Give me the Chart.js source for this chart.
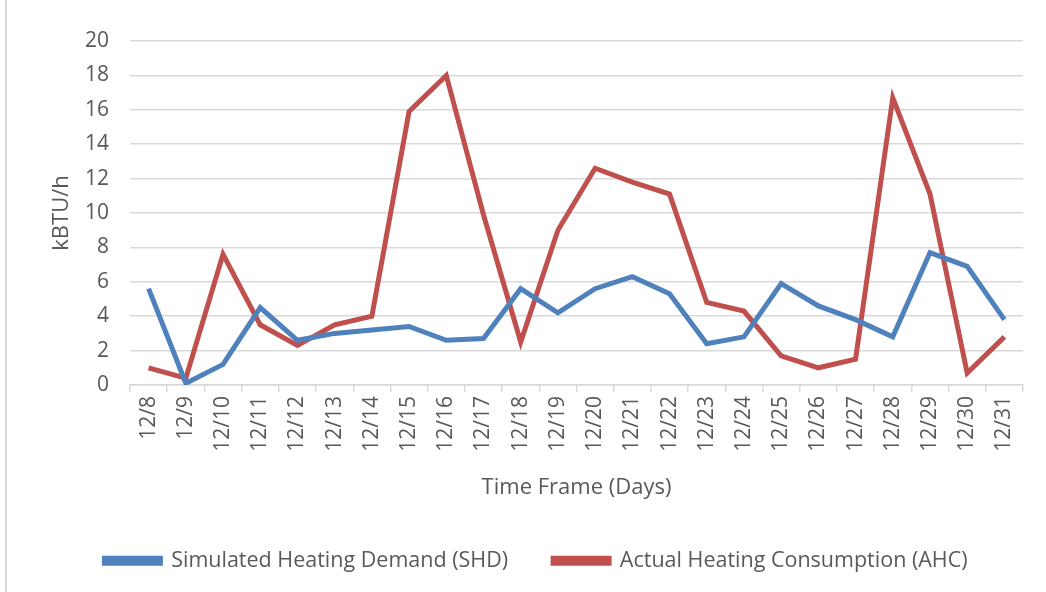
<!DOCTYPE html>
<html>
<head>
<meta charset="utf-8">
<script src="https://cdn.jsdelivr.net/npm/chart.js@4"></script>
<style>
  html, body { margin: 0; padding: 0; background: #fff; }
  #wrap { position: relative; width: 1041px; height: 592px; box-sizing: border-box; border-left: 2px solid #d9d9d9; margin-left: 5px; }
  canvas { display: block; }
</style>
</head>
<body>
<div id="wrap"><canvas id="chart"></canvas></div>
<script>
  const days = ['12/8', '12/9', '12/10', '12/11', '12/12', '12/13', '12/14', '12/15', '12/16', '12/17', '12/18', '12/19',
    '12/20', '12/21', '12/22', '12/23', '12/24', '12/25', '12/26', '12/27', '12/28', '12/29', '12/30', '12/31'];
  const shd = [5.6, 0.1, 1.2, 4.5, 2.6, 3.0, 3.2, 3.4, 2.6, 2.7, 5.6, 4.2, 5.6, 6.3, 5.3, 2.4, 2.8, 5.9, 4.6, 3.8, 2.8, 7.7, 6.9, 3.8];
  const ahc = [1.0, 0.4, 7.6, 3.5, 2.3, 3.5, 4.0, 15.9, 18.0, 9.9, 2.5, 9.0, 12.6, 11.8, 11.1, 4.8, 4.3, 1.7, 1.0, 1.5, 16.7, 11.1, 0.7, 2.8];

  const blue = '#4f81bd';
  const red = '#c0504d';
  const textColor = '#595959';
  const gridColor = '#d9d9d9';
  const font = '"Open Sans", Lato, sans-serif';

  // legend sits lower than its padding would put it, so pin its height
  const legendHeight = {
    id: 'legendHeight',
    beforeInit(chart) {
      const fit = chart.legend.fit;
      chart.legend.fit = function () {
        fit.call(this);
        this.height = 87;
      };
    },
  };

  const ctx = document.getElementById('chart').getContext('2d');
  new Chart(ctx, {
    type: 'line',
    data: {
      labels: days,
      datasets: [
        {
          label: 'Simulated Heating Demand (SHD)',
          data: shd,
          borderColor: blue,
          backgroundColor: blue,
          borderWidth: 5,
          pointRadius: 0,
          tension: 0,
        },
        {
          label: 'Actual Heating Consumption (AHC)',
          data: ahc,
          borderColor: red,
          backgroundColor: red,
          borderWidth: 5,
          pointRadius: 0,
          tension: 0,
        },
      ],
    },
    options: {
      responsive: true,
      maintainAspectRatio: false,
      animation: false,
      layout: {
        padding: { left: 42, right: 23, top: 41, bottom: 0 },
      },
      scales: {
        x: {
          offset: true,
          afterFit: (scale) => { scale.height = 120; },
          grid: {
            offset: true,
            drawOnChartArea: false,
            drawTicks: true,
            tickLength: 7,
            color: gridColor,
            lineWidth: 1.5,
          },
          border: { color: gridColor, width: 1.5 },
          ticks: {
            color: textColor,
            font: { family: font, size: 21 },
            minRotation: 90,
            maxRotation: 90,
            autoSkip: false,
            padding: 4,
          },
          title: {
            display: true,
            text: 'Time Frame (Days)',
            color: textColor,
            font: { family: font, size: 22 },
            padding: { top: 12, bottom: 4 },
          },
        },
        y: {
          min: 0,
          max: 20,
          afterFit: (scale) => { scale.width = 81; },
          grid: {
            color: gridColor,
            lineWidth: 1.5,
            drawTicks: false,
          },
          border: { display: false },
          ticks: {
            stepSize: 2,
            color: textColor,
            font: { family: font, size: 21 },
            padding: 21,
          },
          title: {
            display: true,
            text: 'kBTU/h',
            color: textColor,
            font: { family: font, size: 22 },
            padding: { top: 0, bottom: 0 },
          },
        },
      },
      plugins: {
        legend: {
          position: 'bottom',
          labels: {
            color: textColor,
            font: { family: font, size: 21.5 },
            boxWidth: 56,
            boxHeight: 5,
            padding: 45,
          },
        },
        tooltip: { enabled: false },
      },
    },
    plugins: [legendHeight],
  });
</script>
</body>
</html>
